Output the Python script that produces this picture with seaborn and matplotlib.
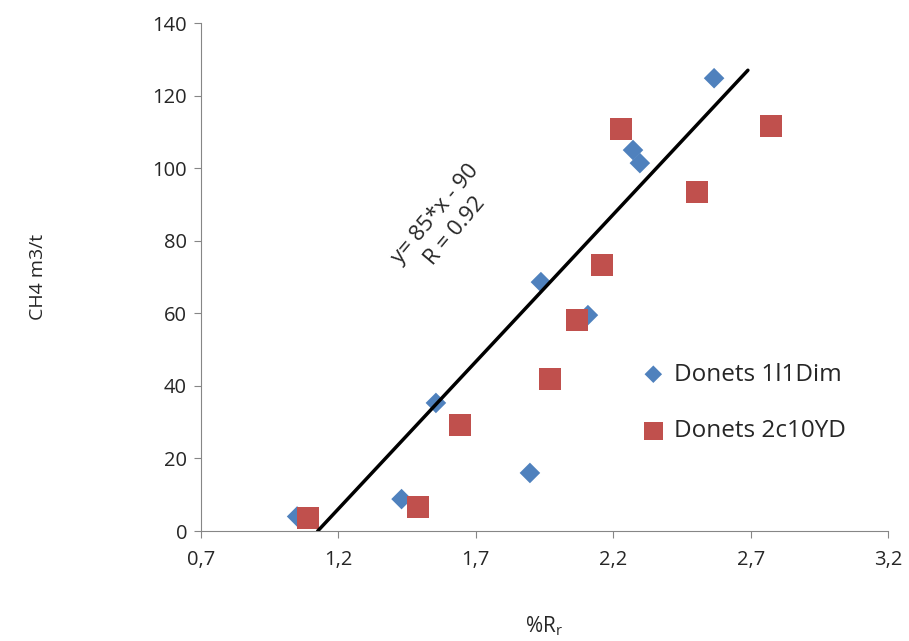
import numpy as np
import pandas as pd
import seaborn as sns
import matplotlib.pyplot as plt

sns.set_style("white")
plt.rcParams["font.family"] = ["Open Sans", "DejaVu Sans"]

# data
dim_x = [1.05, 1.43, 1.555, 1.897, 1.937, 2.108, 2.272, 2.297, 2.567]
dim_y = [4.0, 8.8, 35.3, 16.0, 68.6, 59.5, 105.0, 101.4, 124.8]
yd_x = [1.089, 1.49, 1.643, 1.97, 2.068, 2.159, 2.228, 2.505, 2.774]
yd_y = [3.6, 6.6, 29.2, 41.9, 58.1, 73.3, 110.8, 93.4, 111.6]
line_x = [1.125, 2.69]
line_y = [0.0, 127.0]
x_ticks = [0.7, 1.2, 1.7, 2.2, 2.7, 3.2]
y_ticks = [0, 20, 40, 60, 80, 100, 120, 140]

df_dim = pd.DataFrame({"x": dim_x, "y": dim_y})
df_yd = pd.DataFrame({"x": yd_x, "y": yd_y})

fig = plt.figure(figsize=(9.09, 6.41), dpi=100)
ax = fig.add_axes([0.221, 0.1716, 0.756, 0.7924])

sns.scatterplot(data=df_dim, x="x", y="y", marker="D", s=110, color="#4F81BD",
                edgecolor="none", label="Donets 1l1Dim", ax=ax, zorder=3)
sns.scatterplot(data=df_yd, x="x", y="y", marker="s", s=250, color="#C0504D",
                edgecolor="none", label="Donets 2c10YD", ax=ax, zorder=3)
sns.lineplot(x=line_x, y=line_y, color="black", linewidth=2.5, ax=ax, zorder=4)

ax.text(1.59, 85, "y= 85*x - 90\nR = 0.92", rotation=50, ha="center", va="center",
        multialignment="center", fontsize=16, linespacing=1.25)

ax.set_xlim(0.7, 3.2)
ax.set_ylim(0, 140)
ax.set_xticks(x_ticks)
ax.set_xticklabels([f"{t:.1f}".replace(".", ",") for t in x_ticks])
ax.set_yticks(y_ticks)
ax.tick_params(axis="both", labelsize=14.5, length=5, color="#868686", direction="out")
ax.tick_params(axis="x", pad=9)
ax.tick_params(axis="y", pad=5)
ax.xaxis.set_ticks_position("bottom")
ax.yaxis.set_ticks_position("left")

sns.despine(ax=ax)
for side in ["left", "bottom"]:
    ax.spines[side].set_color("#868686")

ax.set_xlabel("%R$_\\mathregular{r}$", fontsize=15, labelpad=32)
ax.set_ylabel("CH4 m3/t", fontsize=14, labelpad=76)

ax.legend(loc="center left", bbox_to_anchor=(0.6, 0.252), frameon=False,
          fontsize=17.5, handletextpad=0.1, handlelength=1.5, labelspacing=1.35,
          markerscale=0.85)

fig.savefig("out.png", dpi=100)
